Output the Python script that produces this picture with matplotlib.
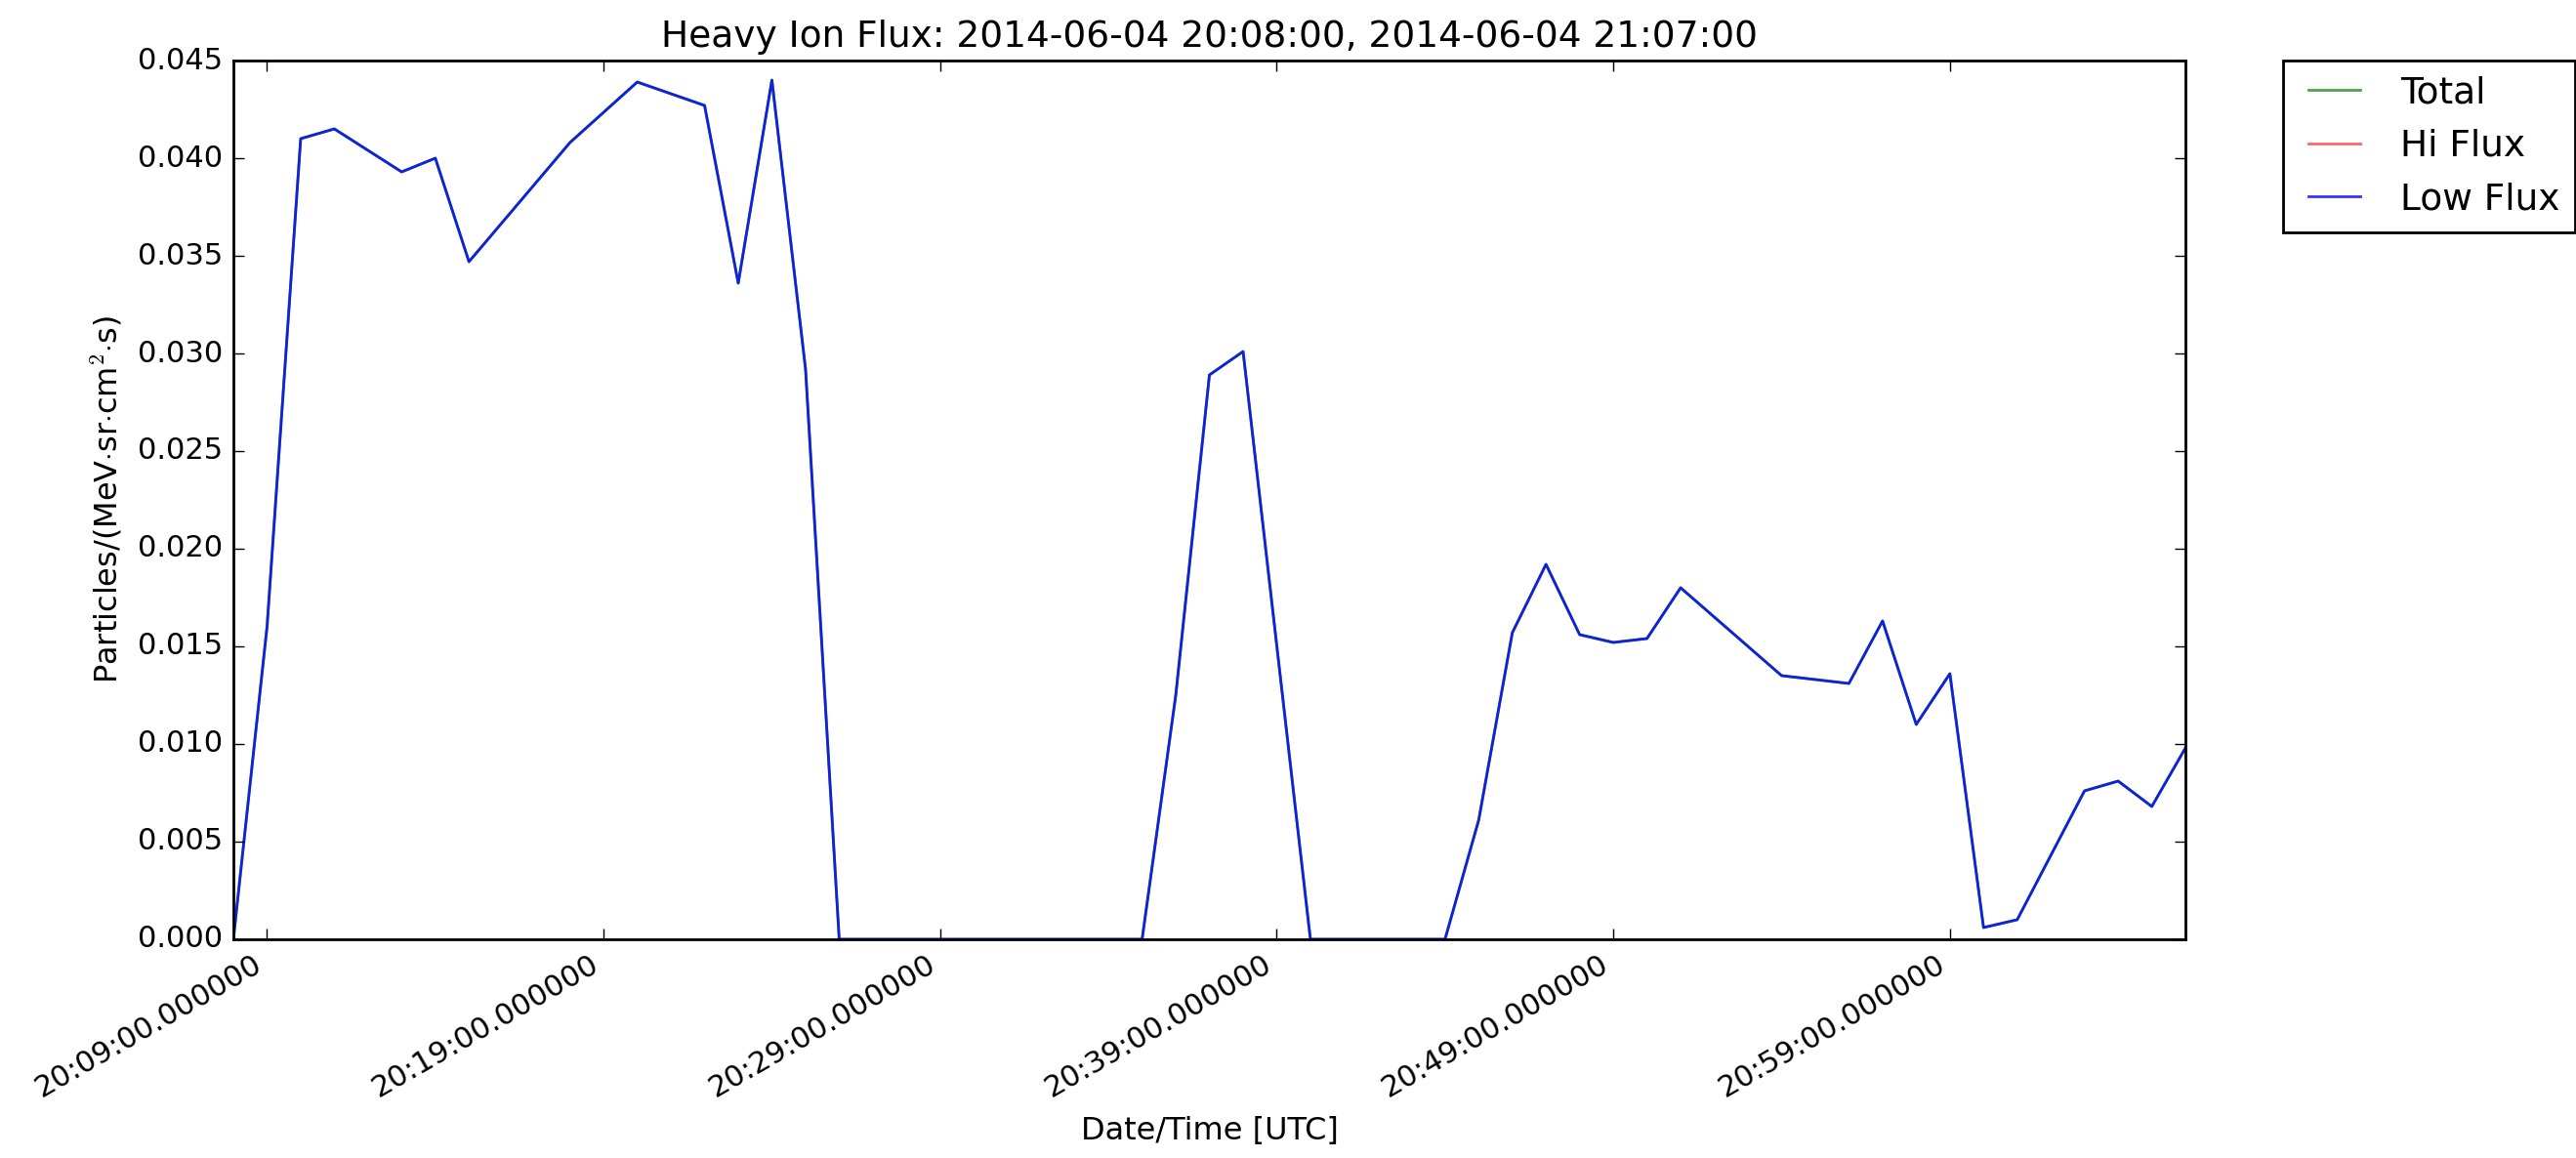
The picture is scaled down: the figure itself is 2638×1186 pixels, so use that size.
import matplotlib
matplotlib.use("Agg")
import matplotlib.pyplot as plt
import matplotlib.dates as mdates
import pandas as pd

plt.style.use("classic")

# ---- data ----
times = ["20:08", "20:09", "20:10", "20:11", "20:13", "20:14", "20:15", "20:18",
         "20:20", "20:22", "20:23", "20:24", "20:25", "20:26", "20:35", "20:36",
         "20:37", "20:38", "20:40", "20:44", "20:45", "20:46", "20:47", "20:48",
         "20:49", "20:50", "20:51", "20:54", "20:56", "20:57", "20:58", "20:59",
         "21:00", "21:01", "21:03", "21:04", "21:05", "21:06"]
low_flux = [0.0, 0.0160, 0.0410, 0.0415, 0.0393, 0.0400, 0.0347, 0.0408,
            0.0439, 0.0427, 0.0336, 0.0440, 0.0292, 0.0, 0.0, 0.0125,
            0.0289, 0.0301, 0.0, 0.0, 0.0061, 0.0157, 0.0192, 0.0156,
            0.0152, 0.0154, 0.0180, 0.0135, 0.0131, 0.0163, 0.0110, 0.0136,
            0.0006, 0.0010, 0.0076, 0.0081, 0.0068, 0.0098]
hi_flux = [0.0] * len(times)
total = [l + h for l, h in zip(low_flux, hi_flux)]

title = "Heavy Ion Flux: 2014-06-04 20:08:00, 2014-06-04 21:07:00"
dt = pd.to_datetime(["2014-06-04 " + t for t in times])

fig = plt.figure(figsize=(13.19, 5.93), dpi=200, facecolor="white")
ax = fig.add_axes([0.0906, 0.1889, 0.7578, 0.7588])
ax.set_facecolor("white")

ax.plot(dt, total, color="g", alpha=0.7, lw=1.0, label="Total")
ax.plot(dt, hi_flux, color="r", alpha=0.6, lw=1.0, label="Hi Flux")
ax.plot(dt, low_flux, color="b", alpha=0.8, lw=1.0, label="Low Flux")

ax.set_xlim(dt[0], dt[-1])
ax.set_ylim(0, 0.045)
ax.set_yticks([0.0, 0.005, 0.010, 0.015, 0.020, 0.025, 0.030, 0.035, 0.040, 0.045])
ax.yaxis.set_major_formatter(matplotlib.ticker.FormatStrFormatter("%.3f"))

ax.xaxis.set_major_locator(mdates.MinuteLocator(byminute=[9, 19, 29, 39, 49, 59]))
ax.xaxis.set_major_formatter(mdates.DateFormatter("%H:%M:%S.%f"))
for lbl in ax.get_xticklabels():
    lbl.set_rotation(30)
    lbl.set_ha("right")
ax.tick_params(labelsize=11)

ax.set_title(title, fontsize=13.5)
ax.set_xlabel("Date/Time [UTC]", fontsize=11.5)
ax.set_ylabel(r"Particles/(MeV$\cdot$sr$\cdot$cm$^2$$\cdot$s)", fontsize=11.5)

leg = ax.legend(loc=2, bbox_to_anchor=(1.05, 1), borderaxespad=0.0, fontsize=13.5,
                frameon=True, fancybox=False)
leg.get_frame().set_edgecolor("black")

fig.savefig("out.png", dpi=200, facecolor="white")
